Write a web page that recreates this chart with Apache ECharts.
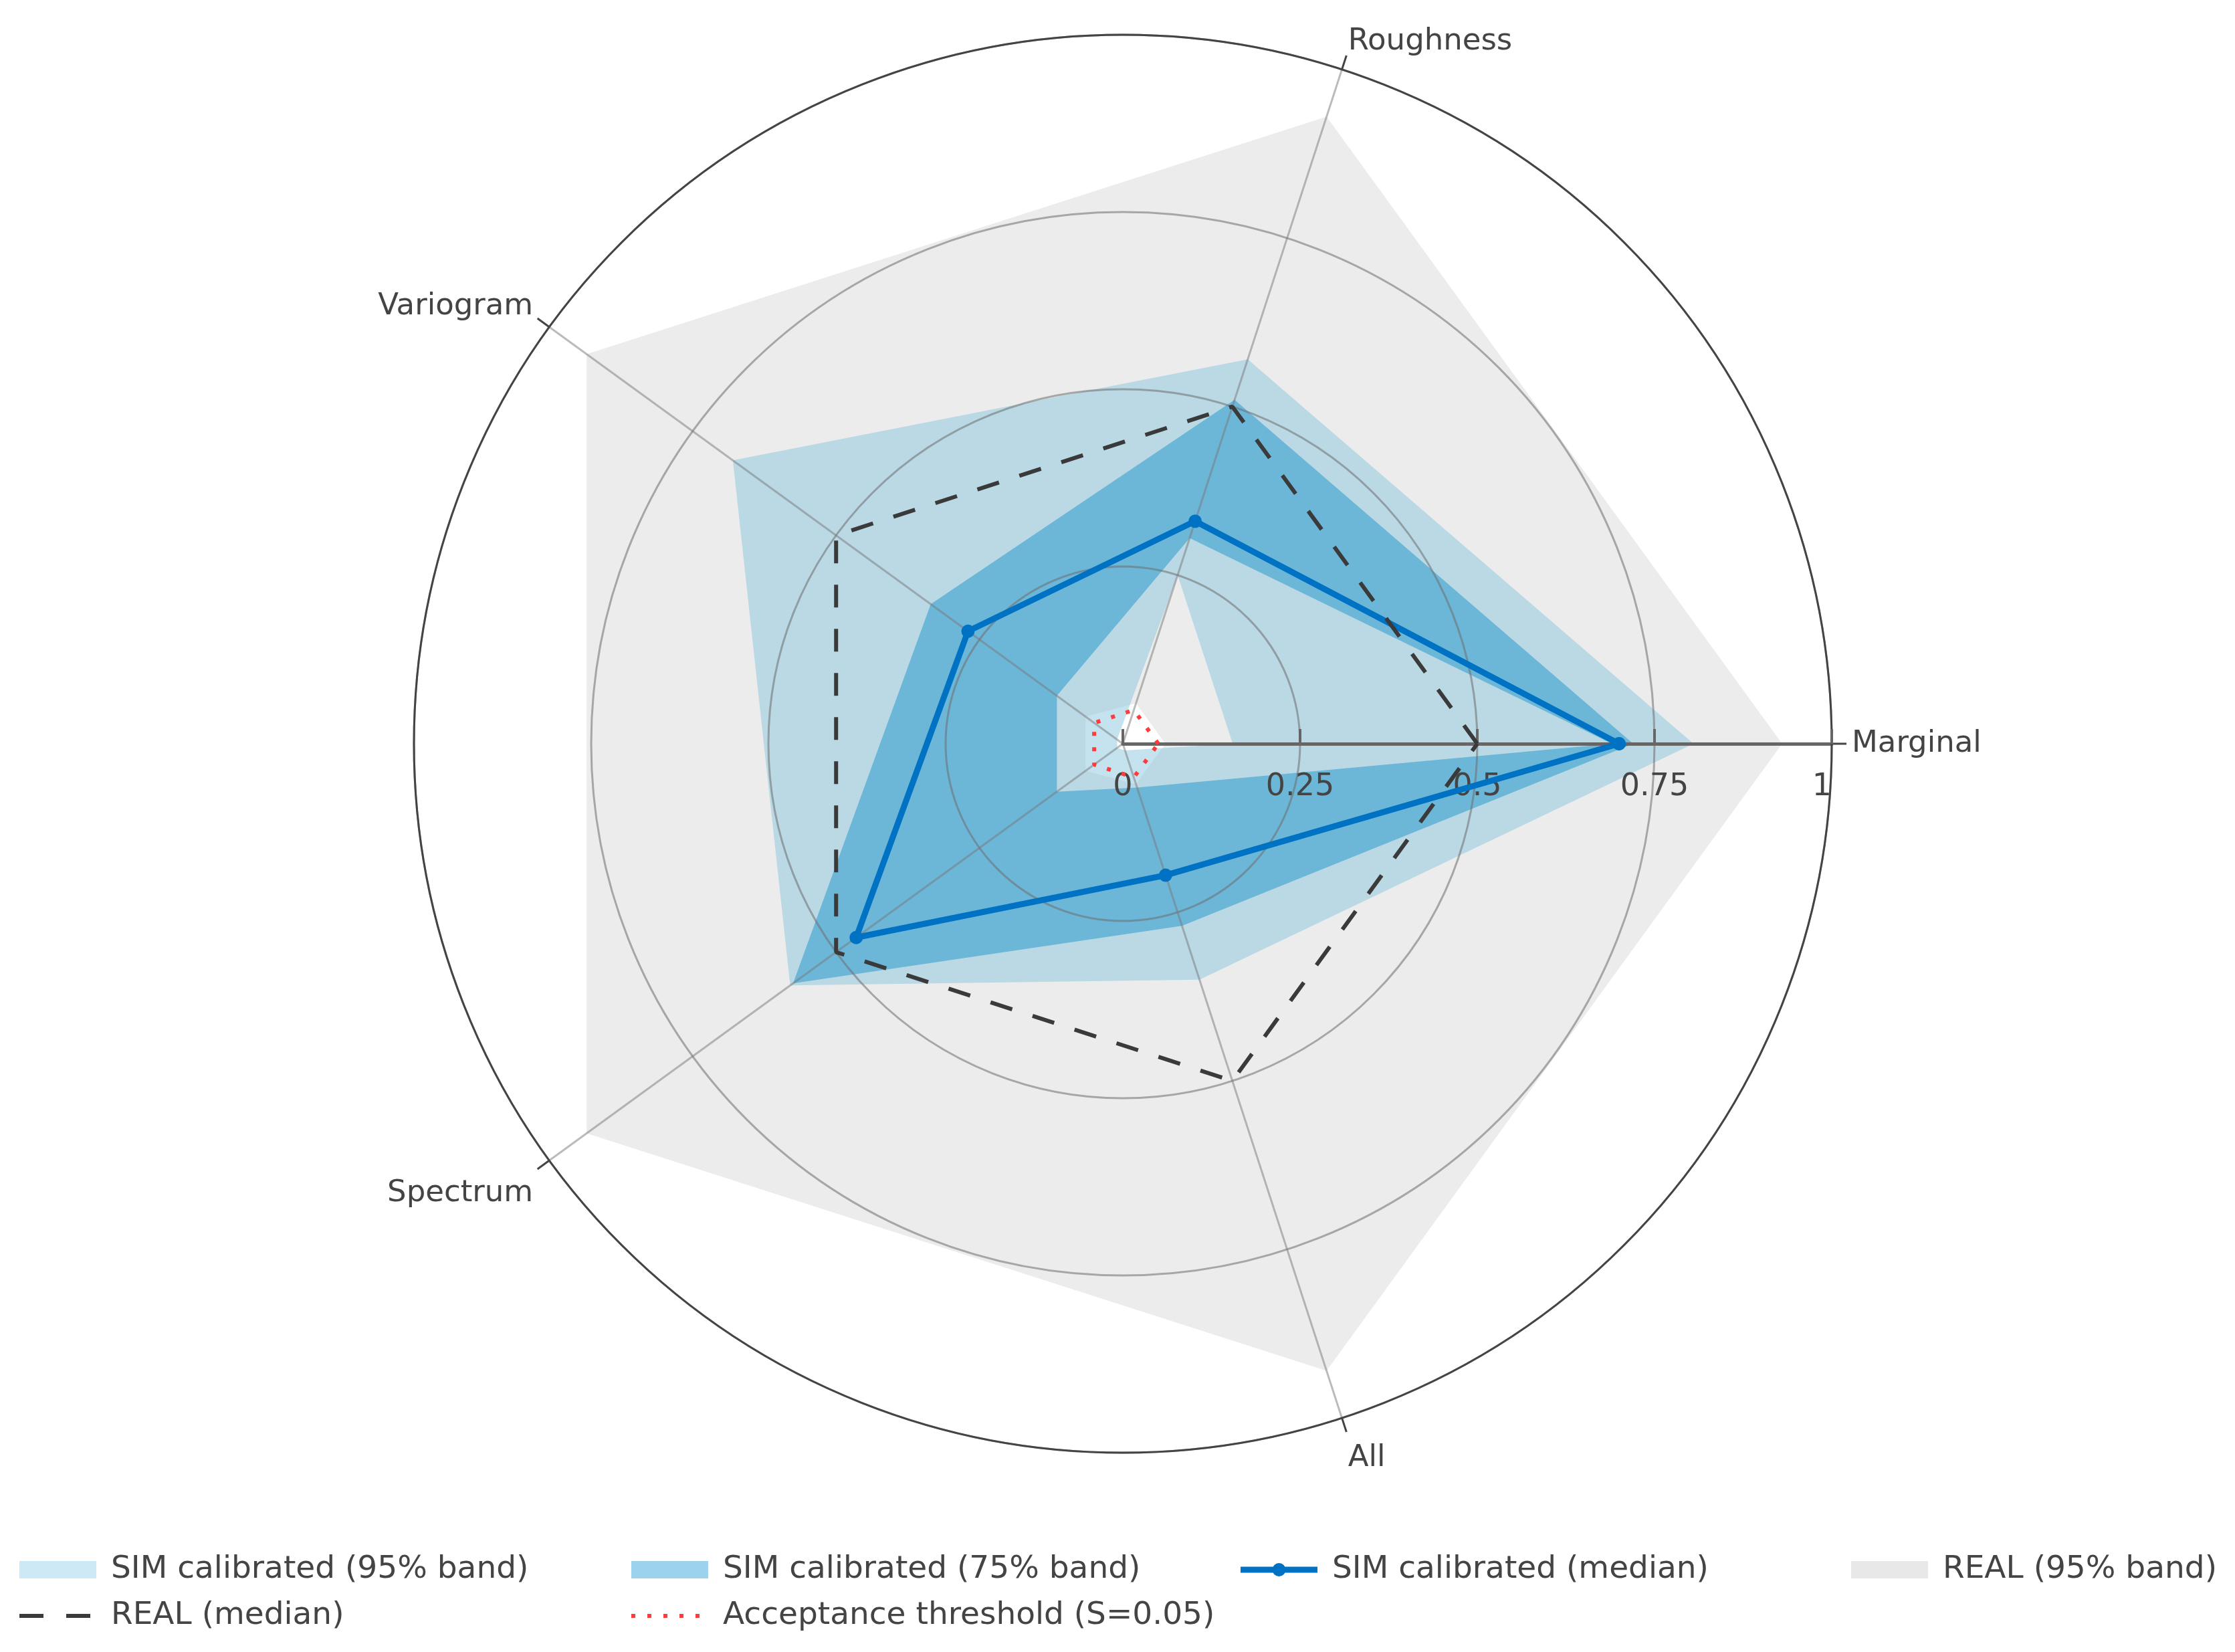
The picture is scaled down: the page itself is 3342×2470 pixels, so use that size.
<!DOCTYPE html>
<html>
<head>
<meta charset="utf-8">
<script src="https://cdn.jsdelivr.net/npm/echarts@6/dist/echarts.min.js"></script>
<style>
html, body { margin: 0; padding: 0; background: #fff; }
#chart { width: 3342px; height: 2470px; }
</style>
</head>
<body>
<div id="chart"></div>
<script>
// axes of the radar, counter-clockwise from the right
var categories = ["Marginal", "Roughness", "Variogram", "Spectrum", "All"];
var radialTicks = [0, 0.25, 0.5, 0.75, 1];

// values
var simMedian = [0.70, 0.33, 0.27, 0.465, 0.195];
var sim75Lower = [0.69, 0.305, 0.115, 0.115, 0.065];
var sim75Upper = [0.72, 0.51, 0.335, 0.575, 0.27];
var sim95Lower = [0.155, 0.25, 0.01, 0.01, 0.01];
var sim95Upper = [0.805, 0.57, 0.68, 0.58, 0.35];
var realMedian = [0.5, 0.5, 0.5, 0.5, 0.5];
var real95Lower = [0.06, 0.06, 0.065, 0.065, 0.06];
var real95Upper = [0.93, 0.93, 0.935, 0.935, 0.93];
var threshold = [0.05, 0.05, 0.05, 0.05, 0.05];

var chart = echarts.init(document.getElementById("chart"), null, { renderer: "canvas" });

var fontFamily = "DejaVu Sans";
var textColor = "#444";
// each category sits on its own spoke of the angle axis
var angleStep = 360 / categories.length;

function bandData(lower, upper) {
	return categories.map(function (c, i) {
		return [i * angleStep, lower[i], upper[i]];
	});
}

// one polygon per band: outer ring forward, inner ring backward (hole)
function renderBand(fill) {
	return function (params, api) {
		if (params.dataIndex !== 0) return;
		var n = categories.length;
		var outer = [],
			inner = [];
		for (var i = 0; i < n; i++) {
			outer.push(api.coord([api.value(2, i), api.value(0, i)]));
			inner.push(api.coord([api.value(1, i), api.value(0, i)]));
		}
		var pts = outer.concat([outer[0], inner[0]]);
		for (var j = n - 1; j >= 0; j--) pts.push(inner[j]);
		return {
			type: "polygon",
			shape: { points: pts },
			style: { fill: fill, stroke: null }
		};
	};
}

function closedRing(values) {
	var pts = values.map(function (v, i) {
		return [v, i * angleStep];
	});
	pts.push([values[0], 0]);
	return pts;
}

function bandSeries(name, lower, upper, fill, swatch) {
	return {
		type: "custom",
		name: name,
		coordinateSystem: "polar",
		z: 1,
		silent: true,
		encode: { angle: 0, radius: [1, 2] },
		itemStyle: { color: swatch },
		data: bandData(lower, upper),
		renderItem: renderBand(fill)
	};
}

// legend: one small legend per entry so the columns line up like the original
var legendCols = [29, 944, 1855, 2768];
var legendRows = [2347, 2416];
var textOffset = 137;
function legendEntry(name, col, row, icon, w, h) {
	return {
		orient: "vertical",
		left: legendCols[col],
		top: legendRows[row] - 28,
		padding: 0,
		itemWidth: w,
		itemHeight: h,
		selectedMode: false,
		itemStyle: { borderWidth: 0 },
		textStyle: {
			fontFamily: fontFamily,
			fontSize: 47,
			color: textColor,
			lineHeight: 56,
			padding: [0, 0, 0, textOffset - w - 5]
		},
		data: [{ name: name, icon: icon }]
	};
}

var dashIcon = "path://M0,0h36v6h-36z M70,0h36v6h-36z";
var dotIcon = "path://M0,0h6v6h-6z M24,0h6v6h-6z M48,0h6v6h-6z M72,0h6v6h-6z M96,0h6v6h-6z";
var medianIcon = "path://M0,5.5H115V14.5H0Z M47.5,10A10,10 0 1,1 67.5,10A10,10 0 1,1 47.5,10Z";

var option = {
	animation: false,
	backgroundColor: "#fff",
	polar: {
		center: [1679, 1112],
		radius: 1060
	},
	angleAxis: {
		type: "value",
		min: 0,
		max: 360,
		interval: angleStep,
		startAngle: 0,
		clockwise: false,
		z: 2,
		axisLine: { show: true, lineStyle: { color: "#444", width: 3 } },
		axisTick: { show: true, length: 22, lineStyle: { color: "#444", width: 3 } },
		axisLabel: {
			margin: 30,
			fontFamily: fontFamily,
			fontSize: 45,
			color: textColor,
			lineHeight: 27,
			padding: [18, 0, 0, 0],
			formatter: function (v) {
				var k = Math.round(v / angleStep);
				return k < categories.length ? categories[k] : "";
			}
		},
		splitLine: { show: true, lineStyle: { color: "rgba(120,120,120,0.5)", width: 3 } }
	},
	radiusAxis: {
		type: "value",
		min: radialTicks[0],
		max: radialTicks[radialTicks.length - 1],
		interval: radialTicks[1] - radialTicks[0],
		z: 2,
		axisLine: { show: true, lineStyle: { color: "#666", width: 5 } },
		axisTick: { show: true, inside: true, length: 22, lineStyle: { color: "#666", width: 4 } },
		axisLabel: {
			margin: -42,
			verticalAlign: "top",
			alignMaxLabel: "right",
			fontFamily: fontFamily,
			fontSize: 46,
			color: textColor
		},
		splitLine: {
			show: true,
			lineStyle: { color: "rgba(110,110,110,0.55)", width: 3 }
		}
	},
	legend: [
		legendEntry("SIM calibrated (95% band)", 0, 0, "rect", 115, 26),
		legendEntry("SIM calibrated (75% band)", 1, 0, "rect", 115, 26),
		legendEntry("SIM calibrated (median)", 2, 0, medianIcon, 115, 20),
		legendEntry("REAL (95% band)", 3, 0, "rect", 115, 26),
		legendEntry("REAL (median)", 0, 1, dashIcon, 106, 6),
		legendEntry("Acceptance threshold (S=0.05)", 1, 1, dotIcon, 102, 6)
	],
	series: [
		bandSeries("REAL (95% band)", real95Lower, real95Upper, "#ececec", "#e8e8e8"),
		bandSeries("SIM calibrated (95% band)", sim95Lower, sim95Upper, "rgba(130,195,222,0.47)", "#cde9f6"),
		bandSeries("SIM calibrated (75% band)", sim75Lower, sim75Upper, "rgba(56,159,207,0.6)", "#9cd2ec"),
		{
			type: "line",
			name: "SIM calibrated (median)",
			coordinateSystem: "polar",
			z: 3,
			data: closedRing(simMedian),
			symbol: "circle",
			symbolSize: 20,
			showSymbol: true,
			lineStyle: { color: "#0072c3", width: 9 },
			itemStyle: { color: "#0072c3" }
		},
		{
			type: "line",
			name: "REAL (median)",
			coordinateSystem: "polar",
			z: 4,
			data: closedRing(realMedian),
			symbol: "none",
			lineStyle: { color: "#3a3a3a", width: 6, type: [34, 32] },
			itemStyle: { color: "#3a3a3a" }
		},
		{
			type: "line",
			name: "Acceptance threshold (S=0.05)",
			coordinateSystem: "polar",
			z: 5,
			data: closedRing(threshold),
			symbol: "none",
			lineStyle: { color: "#ff3b3b", width: 6, type: [6, 17] },
			itemStyle: { color: "#ff3b3b" }
		}
	]
};

chart.setOption(option);
</script>
</body>
</html>
